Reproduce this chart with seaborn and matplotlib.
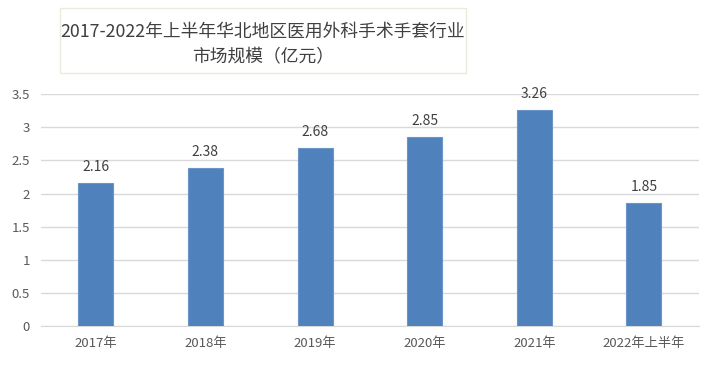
import matplotlib
matplotlib.use('Agg')
import matplotlib.pyplot as plt
from matplotlib.patches import Rectangle
import seaborn as sns
import pandas as pd

years = ['2017年', '2018年', '2019年', '2020年', '2021年', '2022年上半年']
values = [2.16, 2.38, 2.68, 2.85, 3.26, 1.85]
yticks = [0, 0.5, 1, 1.5, 2, 2.5, 3, 3.5]
yticklabels = ['0', '0.5', '1', '1.5', '2', '2.5', '3', '3.5']
title = '2017-2022年上半年华北地区医用外科手术手套行业\n市场规模（亿元）'

sns.set_style('white')
plt.rcParams['font.family'] = ['Noto Sans CJK SC', 'DejaVu Sans']

df = pd.DataFrame({'year': years, 'value': values})

fig = plt.figure(figsize=(7.13, 3.66), dpi=100)
ax = fig.add_axes([0.0575, 0.109, 0.9225, 0.634])

sns.barplot(data=df, x='year', y='value', ax=ax, color='#4f81bd',
            width=0.32, edgecolor='#6a95c8', linewidth=0.8, saturation=1, zorder=3)

ax.set_ylim(0, 3.5)
ax.set_yticks(yticks)
ax.set_yticklabels(yticklabels)
ax.yaxis.grid(True, color='#d9d9d9', linewidth=1, zorder=0)
ax.set_xlabel('')
ax.set_ylabel('')
for s in ['top', 'right', 'left']:
    ax.spines[s].set_visible(False)
ax.spines['bottom'].set_color('#d9d9d9')
ax.tick_params(axis='both', length=0, labelsize=9.5, colors='#595959', pad=8)

for i, v in enumerate(values):
    ax.text(i, v + 0.14, f'{v:.2f}', ha='center', va='bottom', fontsize=10, color='#404040')

# title box
fig.patches.append(Rectangle((0.0842, 0.8005), 0.569, 0.178, transform=fig.transFigure,
                             facecolor='white', edgecolor='#ebebdc', linewidth=1, zorder=0))
fig.text(0.369, 0.878, title, ha='center', va='center', fontsize=12.8, color='#404040',
         linespacing=1.55)

fig.savefig('out.png', dpi=100)
